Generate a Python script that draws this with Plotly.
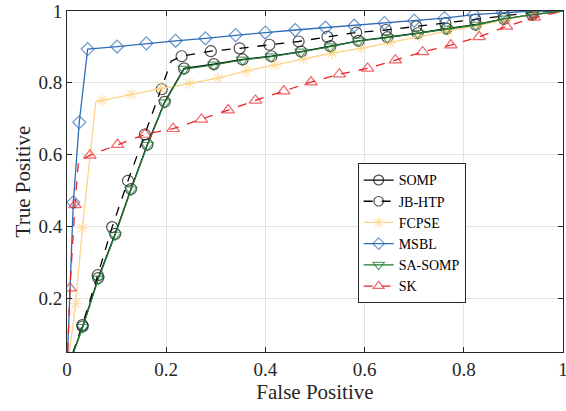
import plotly.graph_objects as go

# ---------------- data ----------------
fp_somp = [0, 0.0316, 0.063, 0.097, 0.129, 0.162, 0.197, 0.236, 0.296, 0.354, 0.412, 0.472, 0.531, 0.588, 0.646, 0.707, 0.765, 0.824, 0.881, 0.938, 1]
tp_somp = [0, 0.121, 0.256, 0.379, 0.504, 0.628, 0.747, 0.840, 0.852, 0.865, 0.874, 0.887, 0.902, 0.917, 0.927, 0.938, 0.951, 0.962, 0.978, 0.990, 1]

fp_jbhtp = [0, 0.031, 0.062, 0.091, 0.123, 0.157, 0.191, 0.210, 0.231, 0.290, 0.348, 0.408, 0.467, 0.525, 0.583, 0.643, 0.704, 0.763, 0.823, 0.881, 0.940, 1]
tp_jbhtp = [0, 0.125, 0.264, 0.398, 0.527, 0.656, 0.782, 0.860, 0.874, 0.888, 0.896, 0.906, 0.915, 0.928, 0.940, 0.947, 0.957, 0.966, 0.976, 0.987, 0.996, 1]

fp_fcpse = [0, 0.0175, 0.031, 0.058, 0.071, 0.130, 0.189, 0.247, 0.304, 0.362, 0.419, 0.477, 0.535, 0.593, 0.651, 0.710, 0.769, 0.828, 0.885, 0.942, 1]
tp_fcpse = [0, 0.185, 0.395, 0.747, 0.751, 0.768, 0.784, 0.798, 0.813, 0.833, 0.850, 0.866, 0.883, 0.896, 0.912, 0.929, 0.945, 0.959, 0.976, 0.992, 1]

fp_msbl = [0, 0.0127, 0.0247, 0.0417, 0.101, 0.160, 0.219, 0.279, 0.340, 0.400, 0.460, 0.521, 0.579, 0.640, 0.700, 0.761, 0.820, 0.879, 0.938, 1]
tp_msbl = [0, 0.467, 0.690, 0.894, 0.901, 0.910, 0.917, 0.924, 0.933, 0.940, 0.947, 0.954, 0.959, 0.966, 0.973, 0.980, 0.990, 0.996, 1.0, 1]

fp_sasomp = [0, 0.0316, 0.063, 0.097, 0.129, 0.162, 0.197, 0.236, 0.296, 0.354, 0.412, 0.472, 0.531, 0.588, 0.646, 0.707, 0.765, 0.824, 0.881, 0.938, 1]
tp_sasomp = [0, 0.119, 0.253, 0.376, 0.502, 0.626, 0.745, 0.838, 0.850, 0.864, 0.873, 0.886, 0.901, 0.917, 0.926, 0.938, 0.950, 0.961, 0.978, 0.990, 1]

fp_sk = [0, 0.006, 0.016, 0.023, 0.046, 0.102, 0.157, 0.214, 0.271, 0.325, 0.380, 0.437, 0.492, 0.549, 0.606, 0.662, 0.717, 0.774, 0.831, 0.886, 0.942, 1]
tp_sk = [0, 0.228, 0.460, 0.580, 0.598, 0.628, 0.656, 0.672, 0.698, 0.724, 0.751, 0.777, 0.802, 0.824, 0.840, 0.863, 0.886, 0.905, 0.928, 0.957, 0.982, 1]

series_names = ["SOMP", "JB-HTP", "FCPSE", "MSBL", "SA-SOMP", "SK"]
x_ticks = [0, 0.2, 0.4, 0.6, 0.8, 1]
y_ticks = [0.2, 0.4, 0.6, 0.8, 1]

# ---------------- figure ----------------
FONT = "Liberation Serif, Times New Roman, serif"
TXT = "#262626"


def marker_sizes(xs, size, unmarked_x):
    # endpoints (0,0) and (1,1) and line knees carry no marker
    out = []
    for i, v in enumerate(xs):
        if i == 0 or i == len(xs) - 1 or v in unmarked_x:
            out.append(0)
        else:
            out.append(size)
    return out


specs = [
    (fp_somp, tp_somp, "#000000", "solid", "circle-open", 11, []),
    (fp_jbhtp, tp_jbhtp, "#000000", "dash", "circle-open", 11, [0.210]),
    (fp_fcpse, tp_fcpse, "#FDD48A", "solid", "asterisk-open", 10, [0.058]),
    (fp_msbl, tp_msbl, "#2E6BB8", "solid", "diamond-open", 10, []),
    (fp_sasomp, tp_sasomp, "#1F7A35", "solid", "triangle-down-open", 11, []),
    (fp_sk, tp_sk, "#E8242B", "dash", "triangle-up-open", 11, [0.023]),
]

fig = go.Figure()
for name, (xs, ys, col, dash, sym, sz, knees) in zip(series_names, specs):
    fig.add_trace(go.Scatter(
        x=xs, y=ys, name=name, mode="lines+markers",
        line=dict(color=col, width=1.3, dash=dash),
        marker=dict(symbol=sym, size=marker_sizes(xs, sz, knees), color=col,
                    line=dict(color=col, width=1.2)),
    ))

axis_common = dict(
    showline=True, linecolor=TXT, linewidth=1, mirror="ticks",
    ticks="inside", ticklen=5, tickcolor=TXT, tickwidth=1,
    showgrid=True, gridcolor="#E3E3E3", gridwidth=1, zeroline=False,
    tickfont=dict(family=FONT, size=19, color=TXT),
    ticklabeloverflow="allow",
    automargin=False,
)

fig.update_xaxes(range=[0, 1], tickvals=x_ticks, ticktext=[f"{v:g}" for v in x_ticks],
                 title=dict(text="False Positive", font=dict(family=FONT, size=21, color=TXT), standoff=2),
                 **axis_common)
fig.update_yaxes(range=[0.05, 1], tickvals=y_ticks, ticktext=[f"{v:g}" for v in y_ticks],
                 title=dict(text="True Positive", font=dict(family=FONT, size=21, color=TXT), standoff=2),
                 **axis_common)

fig.update_layout(
    width=566, height=411,
    margin=dict(l=67, r=3, t=11, b=59),
    template="none",
    plot_bgcolor="white", paper_bgcolor="white",
    showlegend=True,
    legend=dict(x=0.586, y=0.553, xanchor="left", yanchor="top",
                bgcolor="white", bordercolor=TXT, borderwidth=1,
                font=dict(family=FONT, size=14, color="#000000"),
                tracegroupgap=0, itemwidth=30),
    font=dict(family=FONT, size=19, color=TXT),
)

# remove the default page margin so the figure fills the window exactly
fig.write_html("out.html", config={"displayModeBar": False},
               post_script="document.body.style.margin='0';")
